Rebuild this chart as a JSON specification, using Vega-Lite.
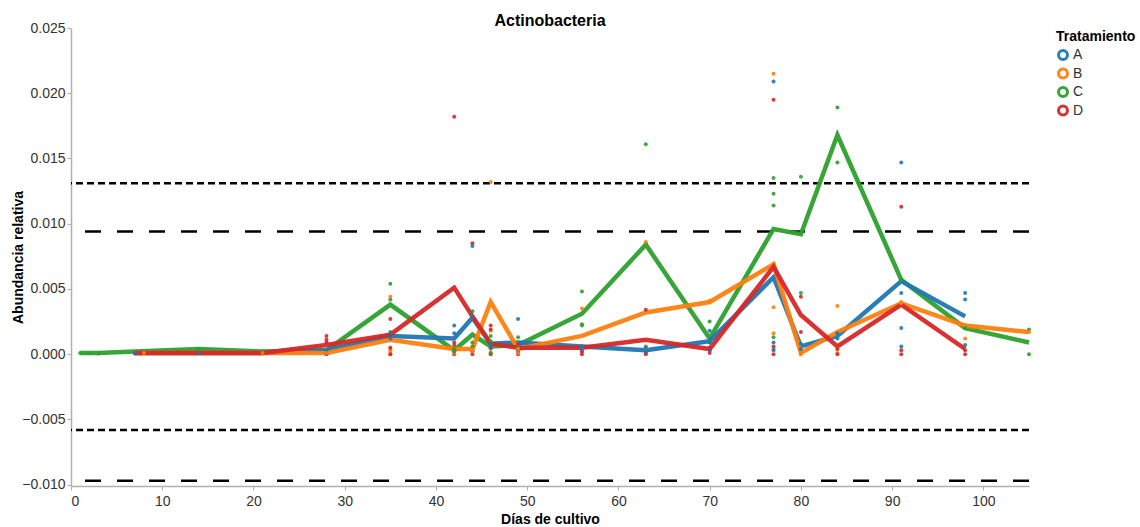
{
  "$schema": "https://vega.github.io/schema/vega-lite/v6.json",
  "width": 958,
  "height": 458,
  "autosize": {"type": "none"},
  "padding": {"left": 71, "top": 28, "right": 111, "bottom": 41},
  "background": "white",
  "title": {"text": "Actinobacteria", "fontSize": 16, "font": "Liberation Sans", "fontWeight": "bold", "color": "#000", "offset": -8, "anchor": "middle"},
  "config": {
    "view": {"stroke": null},
    "font": "Liberation Sans",
    "axis": {
      "labelFont": "Liberation Sans", "labelFontSize": 14, "labelColor": "#333",
      "titleFont": "Liberation Sans", "titleFontSize": 14, "titleFontWeight": "bold", "titleColor": "#000",
      "domainColor": "#b0b0b0", "domainWidth": 1.5, "tickColor": "#b0b0b0", "tickSize": 4, "grid": false
    },
    "legend": {
      "titleFont": "Liberation Sans", "titleFontSize": 14, "titleFontWeight": "bold", "titleColor": "#000",
      "labelFont": "Liberation Sans", "labelFontSize": 14, "labelColor": "#333"
    }
  },
  "datasets": {
    "refs": [
      {"valor": 0.0131, "tipo": "corto"},
      {"valor": -0.0058, "tipo": "corto"},
      {"valor": 0.0094, "tipo": "largo"},
      {"valor": -0.0097, "tipo": "largo"}
    ],
    "medias": [
      {"dia": 1, "trat": "C", "abund": 0.0001}, {"dia": 2, "trat": "C", "abund": 0.0001}, {"dia": 3, "trat": "C", "abund": 0.0001},
      {"dia": 7, "trat": "C", "abund": 0.0002}, {"dia": 14, "trat": "C", "abund": 0.0004}, {"dia": 21, "trat": "C", "abund": 0.0002},
      {"dia": 28, "trat": "C", "abund": 0.0003}, {"dia": 35, "trat": "C", "abund": 0.0038}, {"dia": 42, "trat": "C", "abund": 0.0003},
      {"dia": 44, "trat": "C", "abund": 0.0015}, {"dia": 46, "trat": "C", "abund": 0.0006}, {"dia": 49, "trat": "C", "abund": 0.0007},
      {"dia": 56, "trat": "C", "abund": 0.0031}, {"dia": 63, "trat": "C", "abund": 0.0084}, {"dia": 70, "trat": "C", "abund": 0.0012},
      {"dia": 77, "trat": "C", "abund": 0.0096}, {"dia": 80, "trat": "C", "abund": 0.0092}, {"dia": 84, "trat": "C", "abund": 0.0168},
      {"dia": 91, "trat": "C", "abund": 0.0057}, {"dia": 98, "trat": "C", "abund": 0.0020}, {"dia": 105, "trat": "C", "abund": 0.0009},

      {"dia": 7, "trat": "A", "abund": 0.0001}, {"dia": 8, "trat": "A", "abund": 0.0001}, {"dia": 14, "trat": "A", "abund": 0.0001},
      {"dia": 21, "trat": "A", "abund": 0.0001}, {"dia": 28, "trat": "A", "abund": 0.0003}, {"dia": 35, "trat": "A", "abund": 0.0014},
      {"dia": 42, "trat": "A", "abund": 0.0012}, {"dia": 44, "trat": "A", "abund": 0.0028}, {"dia": 46, "trat": "A", "abund": 0.0008},
      {"dia": 49, "trat": "A", "abund": 0.0009}, {"dia": 56, "trat": "A", "abund": 0.0006}, {"dia": 63, "trat": "A", "abund": 0.0003},
      {"dia": 70, "trat": "A", "abund": 0.0010}, {"dia": 77, "trat": "A", "abund": 0.0059}, {"dia": 80, "trat": "A", "abund": 0.0006},
      {"dia": 84, "trat": "A", "abund": 0.0014}, {"dia": 91, "trat": "A", "abund": 0.0056}, {"dia": 98, "trat": "A", "abund": 0.0029},

      {"dia": 7, "trat": "B", "abund": 0.0001}, {"dia": 8, "trat": "B", "abund": 0.0001}, {"dia": 14, "trat": "B", "abund": 0.0001},
      {"dia": 21, "trat": "B", "abund": 0.0001}, {"dia": 28, "trat": "B", "abund": 0.0001}, {"dia": 35, "trat": "B", "abund": 0.0011},
      {"dia": 42, "trat": "B", "abund": 0.0004}, {"dia": 44, "trat": "B", "abund": 0.0004}, {"dia": 46, "trat": "B", "abund": 0.0040},
      {"dia": 49, "trat": "B", "abund": 0.0004}, {"dia": 56, "trat": "B", "abund": 0.0014}, {"dia": 63, "trat": "B", "abund": 0.0032},
      {"dia": 70, "trat": "B", "abund": 0.0040}, {"dia": 77, "trat": "B", "abund": 0.0069}, {"dia": 80, "trat": "B", "abund": 0.0001},
      {"dia": 84, "trat": "B", "abund": 0.0017}, {"dia": 91, "trat": "B", "abund": 0.0039}, {"dia": 98, "trat": "B", "abund": 0.0022},
      {"dia": 105, "trat": "B", "abund": 0.0017},

      {"dia": 7, "trat": "D", "abund": 0.0001}, {"dia": 8, "trat": "D", "abund": 0.0001}, {"dia": 14, "trat": "D", "abund": 0.0001},
      {"dia": 21, "trat": "D", "abund": 0.0001}, {"dia": 28, "trat": "D", "abund": 0.0007}, {"dia": 35, "trat": "D", "abund": 0.0015},
      {"dia": 42, "trat": "D", "abund": 0.0051}, {"dia": 44, "trat": "D", "abund": 0.0029}, {"dia": 46, "trat": "D", "abund": 0.0008},
      {"dia": 49, "trat": "D", "abund": 0.0005}, {"dia": 56, "trat": "D", "abund": 0.0005}, {"dia": 63, "trat": "D", "abund": 0.0011},
      {"dia": 70, "trat": "D", "abund": 0.0004}, {"dia": 77, "trat": "D", "abund": 0.0067}, {"dia": 80, "trat": "D", "abund": 0.0030},
      {"dia": 84, "trat": "D", "abund": 0.0006}, {"dia": 91, "trat": "D", "abund": 0.0038}, {"dia": 98, "trat": "D", "abund": 0.0004}
    ],
    "replicas": [
      {"dia": 1, "trat": "C", "abund": 0.0001}, {"dia": 2, "trat": "C", "abund": 0.0001}, {"dia": 3, "trat": "C", "abund": 0.00005},
      {"dia": 7, "trat": "D", "abund": 0.00005}, {"dia": 8, "trat": "D", "abund": 0.0001}, {"dia": 7, "trat": "A", "abund": 0.0001}, {"dia": 8, "trat": "B", "abund": 0.0001},
      {"dia": 14, "trat": "D", "abund": 0.0001}, {"dia": 14, "trat": "C", "abund": 0.0004}, {"dia": 14, "trat": "A", "abund": 0.0001},
      {"dia": 21, "trat": "C", "abund": 0.0002}, {"dia": 21, "trat": "D", "abund": 0.0001}, {"dia": 21, "trat": "B", "abund": 0.0001},
      {"dia": 28, "trat": "D", "abund": 0.0014}, {"dia": 28, "trat": "D", "abund": 0.0011}, {"dia": 28, "trat": "D", "abund": 0.0009}, {"dia": 28, "trat": "D", "abund": 0.0000},
      {"dia": 28, "trat": "C", "abund": 0.0003}, {"dia": 28, "trat": "A", "abund": 0.0003}, {"dia": 28, "trat": "B", "abund": 0.0001},
      {"dia": 35, "trat": "C", "abund": 0.0054}, {"dia": 35, "trat": "C", "abund": 0.0042}, {"dia": 35, "trat": "C", "abund": 0.0017},
      {"dia": 35, "trat": "B", "abund": 0.0044}, {"dia": 35, "trat": "B", "abund": 0.0004}, {"dia": 35, "trat": "B", "abund": 0.0002}, {"dia": 35, "trat": "B", "abund": 0.0000},
      {"dia": 35, "trat": "D", "abund": 0.0027}, {"dia": 35, "trat": "D", "abund": 0.0015}, {"dia": 35, "trat": "D", "abund": 0.0005}, {"dia": 35, "trat": "D", "abund": 0.0000},
      {"dia": 35, "trat": "A", "abund": 0.0016}, {"dia": 35, "trat": "A", "abund": 0.0012},
      {"dia": 42, "trat": "D", "abund": 0.0182}, {"dia": 42, "trat": "D", "abund": 0.0009}, {"dia": 42, "trat": "D", "abund": 0.0007}, {"dia": 42, "trat": "D", "abund": 0.0000},
      {"dia": 42, "trat": "A", "abund": 0.0022}, {"dia": 42, "trat": "A", "abund": 0.0016}, {"dia": 42, "trat": "A", "abund": 0.0003},
      {"dia": 42, "trat": "B", "abund": 0.0004}, {"dia": 42, "trat": "B", "abund": 0.0001}, {"dia": 42, "trat": "C", "abund": 0.0004}, {"dia": 42, "trat": "C", "abund": 0.0002},
      {"dia": 44, "trat": "D", "abund": 0.0085}, {"dia": 44, "trat": "D", "abund": 0.0002}, {"dia": 44, "trat": "D", "abund": 0.0000},
      {"dia": 44, "trat": "A", "abund": 0.0083}, {"dia": 44, "trat": "A", "abund": 0.0029}, {"dia": 44, "trat": "A", "abund": 0.0002},
      {"dia": 44, "trat": "C", "abund": 0.0033}, {"dia": 44, "trat": "C", "abund": 0.0009}, {"dia": 44, "trat": "C", "abund": 0.0006},
      {"dia": 44, "trat": "B", "abund": 0.0004}, {"dia": 44, "trat": "B", "abund": 0.0002},
      {"dia": 46, "trat": "B", "abund": 0.0132}, {"dia": 46, "trat": "B", "abund": 0.0018}, {"dia": 46, "trat": "B", "abund": 0.0004}, {"dia": 46, "trat": "B", "abund": 0.0001},
      {"dia": 46, "trat": "D", "abund": 0.0022}, {"dia": 46, "trat": "D", "abund": 0.0019}, {"dia": 46, "trat": "D", "abund": 0.0005}, {"dia": 46, "trat": "D", "abund": 0.0000},
      {"dia": 46, "trat": "C", "abund": 0.0014}, {"dia": 46, "trat": "C", "abund": 0.0010}, {"dia": 46, "trat": "C", "abund": 0.0001},
      {"dia": 46, "trat": "A", "abund": 0.0008}, {"dia": 46, "trat": "A", "abund": 0.0005},
      {"dia": 49, "trat": "A", "abund": 0.0027}, {"dia": 49, "trat": "A", "abund": 0.0003}, {"dia": 49, "trat": "A", "abund": 0.0002},
      {"dia": 49, "trat": "C", "abund": 0.0013}, {"dia": 49, "trat": "C", "abund": 0.0005},
      {"dia": 49, "trat": "D", "abund": 0.0000}, {"dia": 49, "trat": "D", "abund": 0.0008}, {"dia": 49, "trat": "B", "abund": 0.0004}, {"dia": 49, "trat": "B", "abund": 0.0001},
      {"dia": 56, "trat": "C", "abund": 0.0048}, {"dia": 56, "trat": "C", "abund": 0.0023}, {"dia": 56, "trat": "C", "abund": 0.0022},
      {"dia": 56, "trat": "B", "abund": 0.0035}, {"dia": 56, "trat": "B", "abund": 0.0005}, {"dia": 56, "trat": "B", "abund": 0.0002},
      {"dia": 56, "trat": "D", "abund": 0.0006}, {"dia": 56, "trat": "D", "abund": 0.0002}, {"dia": 56, "trat": "D", "abund": 0.0000},
      {"dia": 56, "trat": "A", "abund": 0.0006}, {"dia": 56, "trat": "A", "abund": 0.0004},
      {"dia": 63, "trat": "C", "abund": 0.0161}, {"dia": 63, "trat": "C", "abund": 0.0085}, {"dia": 63, "trat": "C", "abund": 0.0006},
      {"dia": 63, "trat": "B", "abund": 0.0086}, {"dia": 63, "trat": "B", "abund": 0.0005}, {"dia": 63, "trat": "B", "abund": 0.0005},
      {"dia": 63, "trat": "D", "abund": 0.0034}, {"dia": 63, "trat": "D", "abund": 0.0000}, {"dia": 63, "trat": "D", "abund": 0.0001},
      {"dia": 63, "trat": "A", "abund": 0.0005}, {"dia": 63, "trat": "A", "abund": 0.0002},
      {"dia": 70, "trat": "B", "abund": 0.0040}, {"dia": 70, "trat": "B", "abund": 0.0041},
      {"dia": 70, "trat": "C", "abund": 0.0025}, {"dia": 70, "trat": "C", "abund": 0.0009}, {"dia": 70, "trat": "C", "abund": 0.0003},
      {"dia": 70, "trat": "A", "abund": 0.0018}, {"dia": 70, "trat": "A", "abund": 0.0009}, {"dia": 70, "trat": "A", "abund": 0.0003},
      {"dia": 70, "trat": "D", "abund": 0.0005}, {"dia": 70, "trat": "D", "abund": 0.0001},
      {"dia": 77, "trat": "B", "abund": 0.0215}, {"dia": 77, "trat": "B", "abund": 0.0036}, {"dia": 77, "trat": "B", "abund": 0.0016}, {"dia": 77, "trat": "B", "abund": 0.0004},
      {"dia": 77, "trat": "A", "abund": 0.0209}, {"dia": 77, "trat": "A", "abund": 0.0009}, {"dia": 77, "trat": "A", "abund": 0.0003},
      {"dia": 77, "trat": "D", "abund": 0.0195}, {"dia": 77, "trat": "D", "abund": 0.0006}, {"dia": 77, "trat": "D", "abund": 0.0000},
      {"dia": 77, "trat": "C", "abund": 0.0135}, {"dia": 77, "trat": "C", "abund": 0.0123}, {"dia": 77, "trat": "C", "abund": 0.0114}, {"dia": 77, "trat": "C", "abund": 0.0013},
      {"dia": 80, "trat": "C", "abund": 0.0136}, {"dia": 80, "trat": "C", "abund": 0.0047},
      {"dia": 80, "trat": "D", "abund": 0.0044}, {"dia": 80, "trat": "D", "abund": 0.0017},
      {"dia": 80, "trat": "A", "abund": 0.0004}, {"dia": 80, "trat": "A", "abund": 0.0008}, {"dia": 80, "trat": "B", "abund": 0.0001}, {"dia": 80, "trat": "B", "abund": 0.0000},
      {"dia": 84, "trat": "C", "abund": 0.0189}, {"dia": 84, "trat": "C", "abund": 0.0147},
      {"dia": 84, "trat": "B", "abund": 0.0037}, {"dia": 84, "trat": "B", "abund": 0.0004}, {"dia": 84, "trat": "B", "abund": 0.0001},
      {"dia": 84, "trat": "A", "abund": 0.0016}, {"dia": 84, "trat": "A", "abund": 0.0012},
      {"dia": 84, "trat": "D", "abund": 0.0004}, {"dia": 84, "trat": "D", "abund": 0.0000},
      {"dia": 91, "trat": "A", "abund": 0.0147}, {"dia": 91, "trat": "A", "abund": 0.0047}, {"dia": 91, "trat": "A", "abund": 0.0020}, {"dia": 91, "trat": "A", "abund": 0.0006},
      {"dia": 91, "trat": "D", "abund": 0.0113}, {"dia": 91, "trat": "D", "abund": 0.0003}, {"dia": 91, "trat": "D", "abund": 0.0000},
      {"dia": 91, "trat": "B", "abund": 0.0039}, {"dia": 91, "trat": "B", "abund": 0.0040}, {"dia": 91, "trat": "C", "abund": 0.0057},
      {"dia": 98, "trat": "A", "abund": 0.0047}, {"dia": 98, "trat": "A", "abund": 0.0042}, {"dia": 98, "trat": "A", "abund": 0.0007},
      {"dia": 98, "trat": "B", "abund": 0.0022}, {"dia": 98, "trat": "B", "abund": 0.0012}, {"dia": 98, "trat": "C", "abund": 0.0020},
      {"dia": 98, "trat": "D", "abund": 0.0003}, {"dia": 98, "trat": "D", "abund": 0.0000},
      {"dia": 105, "trat": "C", "abund": 0.0019}, {"dia": 105, "trat": "C", "abund": 0.0000}, {"dia": 105, "trat": "B", "abund": 0.0017}
    ]
  },
  "resolve": {"scale": {"color": "independent"}, "legend": {"color": "independent"}},
  "layer": [
    {
      "data": {"name": "refs"},
      "transform": [{"filter": "datum.tipo == 'corto'"}],
      "mark": {"type": "rule", "color": "#000", "strokeWidth": 2.5, "strokeDash": [7, 4]},
      "encoding": {"y": {"field": "valor", "type": "quantitative"}}
    },
    {
      "data": {"name": "refs"},
      "transform": [{"filter": "datum.tipo == 'largo'"}],
      "mark": {"type": "rule", "color": "#000", "strokeWidth": 2.5, "strokeDash": [16, 16]},
      "encoding": {"y": {"field": "valor", "type": "quantitative"}}
    },
    {
      "data": {"name": "medias"},
      "mark": {"type": "line", "strokeWidth": 4.5, "opacity": 0.95},
      "encoding": {
        "x": {"field": "dia", "type": "quantitative", "scale": {"domain": [0, 105], "nice": false},
              "axis": {"title": "Días de cultivo", "values": [0, 10, 20, 30, 40, 50, 60, 70, 80, 90, 100], "format": "d", "labelPadding": 4, "titlePadding": 4}},
        "y": {"field": "abund", "type": "quantitative", "scale": {"domain": [-0.0101, 0.025], "nice": false, "zero": false},
              "axis": {"title": "Abundancia  relativa", "values": [-0.01, -0.005, 0, 0.005, 0.01, 0.015, 0.02, 0.025], "format": ".3f", "labelPadding": 2, "titlePadding": -4}},
        "color": {"field": "trat", "type": "nominal",
                  "scale": {"domain": ["A", "B", "C", "D"], "range": ["#1f77b4", "#ff7f0e", "#2ca02c", "#d62728"]},
                  "legend": {"title": "Tratamiento", "orient": "none", "legendX": 985, "legendY": 2, "symbolType": "circle", "symbolSize": 80, "rowPadding": 4.5, "clipHeight": 14, "labelOffset": 3, "titlePadding": 4,
                             "symbolFillColor": "transparent", "symbolStrokeWidth": 3}},
        "detail": {"field": "trat"},
        "order": {"field": "dia", "type": "quantitative"}
      }
    },
    {
      "data": {"name": "replicas"},
      "mark": {"type": "circle", "size": 16, "opacity": 0.9},
      "encoding": {
        "x": {"field": "dia", "type": "quantitative"},
        "y": {"field": "abund", "type": "quantitative"},
        "color": {"field": "trat", "type": "nominal",
                  "scale": {"domain": ["A", "B", "C", "D"], "range": ["#1f77b4", "#ff7f0e", "#2ca02c", "#d62728"]},
                  "legend": null}
      }
    }
  ]
}
